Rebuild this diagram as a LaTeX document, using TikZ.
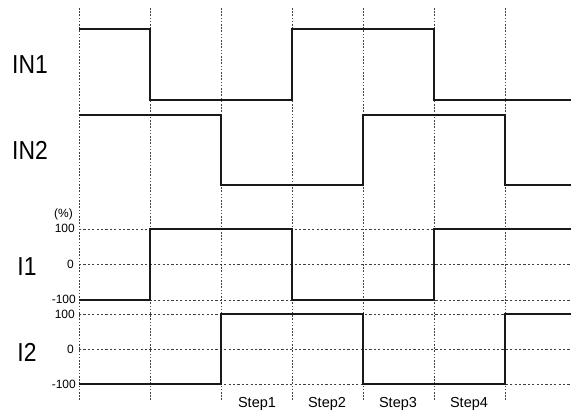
\documentclass[tikz,border=0pt]{standalone}
\usepackage{fontspec}
\setmainfont{Liberation Sans}
\begin{document}
\begin{tikzpicture}[x=1pt,y=-1pt,
  gridv/.style={black!75,line width=0.8pt,dash pattern=on 1.6pt off 1.6pt},
  gridh/.style={black!75,line width=0.8pt,dash pattern=on 2.2pt off 2.2pt},
  sig/.style={black!90,line width=2.6pt,line join=miter,line cap=butt},
  big/.style={font=\fontsize{26}{26}\selectfont,xscale=0.88,inner sep=0pt},
  tick/.style={font=\fontsize{12}{12}\selectfont,anchor=east,inner sep=0pt},
  steplbl/.style={font=\fontsize{14.5}{15}\selectfont,inner sep=0pt}]
\useasboundingbox (0,0) rectangle (571,414);
% vertical dotted lines
\foreach \x/\n in {79/a,150/b,221/c,292/d,363/e,434/f,505/g}{
  \coordinate (t\n) at (\x,8);
  \coordinate (b\n) at (\x,400);
  \draw[gridv] (t\n) -- (b\n);
}
% horizontal dashed grid lines
\foreach \y/\n in {229/p1,264/z1,300/m1,314/p2,349/z2,384/m2}{
  \coordinate (l\n) at (79,\y);
  \coordinate (r\n) at (571,\y);
  \draw[gridh] (l\n) -- (r\n);
}
% labels
\node[big] (in1) at (30,65) {IN1};
\node[big] (in2) at (30,150) {IN2};
\node[big] (i1) at (27,267) {I1};
\node[big] (i2) at (27,352) {I2};
\node[tick] (pct) at (73,214) {(\%)};
\node[tick] (p1) at (75,228) {100};
\node[tick] (z1) at (74,264) {0};
\node[tick] (m1) at (76,299) {-100};
\node[tick] (p2) at (75,314) {100};
\node[tick] (z2) at (74,349) {0};
\node[tick] (m2) at (76,384) {-100};
\node[steplbl] (s1) at (257,404) {Step1};
\node[steplbl] (s2) at (327,404) {Step2};
\node[steplbl] (s3) at (398,404) {Step3};
\node[steplbl] (s4) at (469,404) {Step4};
% signals
\draw[sig] (79,29) -- (150,29) -- (150,100) -- (292,100) -- (292,29) -- (434,29) -- (434,100) -- (571,100);
\draw[sig] (79,115) -- (221,115) -- (221,185) -- (363,185) -- (363,115) -- (505,115) -- (505,185) -- (571,185);
\draw[sig] (79,300) -- (150,300) -- (150,229) -- (292,229) -- (292,300) -- (434,300) -- (434,229) -- (571,229);
\draw[sig] (79,384) -- (221,384) -- (221,314) -- (363,314) -- (363,384) -- (505,384) -- (505,314) -- (571,314);
\end{tikzpicture}
\end{document}
